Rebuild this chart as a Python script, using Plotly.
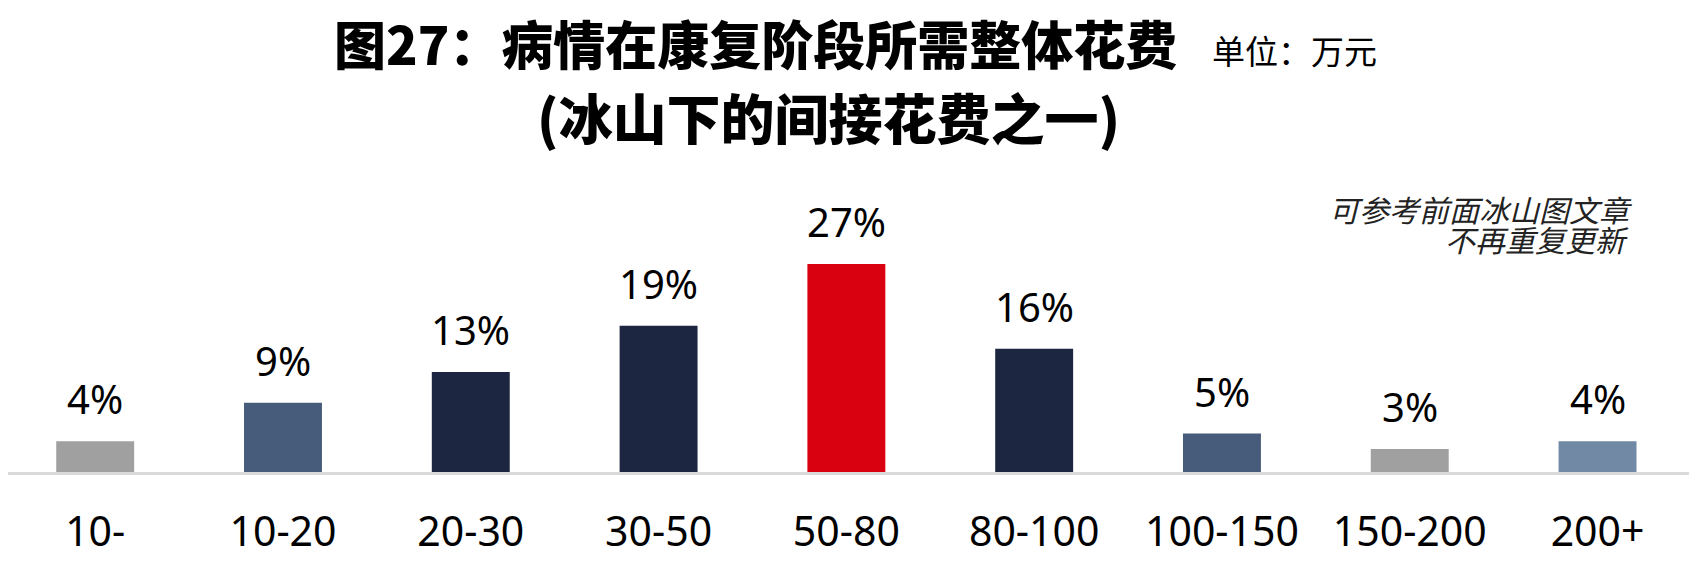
import plotly.graph_objects as go

categories = ["10-", "10-20", "20-30", "30-50", "50-80", "80-100", "100-150", "150-200", "200+"]
values = [4, 9, 13, 19, 27, 16, 5, 3, 4]
labels = ["4%", "9%", "13%", "19%", "27%", "16%", "5%", "3%", "4%"]
colors = ["#A0A0A0", "#475B7A", "#1C2640", "#1C2640", "#D9000F",
          "#1C2640", "#475B7A", "#A0A0A0", "#7189A5"]

title1 = "图27：病情在康复阶段所需整体花费"
unit = "单位：万元"
title2 = "(冰山下的间接花费之一)"
note1 = "可参考前面冰山图文章"
note2 = "不再重复更新"

# page has an 8px body margin; the figure is sized so it fits the window
W, H = 1681, 550
ML, MR, MT, MB = 0, 0, 233, 80
PW = W - ML - MR
PH = H - MT - MB


def px(x):
    return (x - ML) / PW


def py(y):
    return (H - MB - y) / PH


fig = go.Figure()
fig.add_trace(go.Bar(
    x=categories, y=values, marker=dict(color=colors, line=dict(width=0)),
    width=0.415, text=labels, textposition="none", hoverinfo="skip",
))

annotations = []
for c, v, t in zip(categories, values, labels):
    annotations.append(dict(
        x=c, y=v, xref="x", yref="y", text=t, showarrow=False,
        yanchor="bottom", yshift=13,
        font=dict(family="Noto Sans", size=40, color="#000000"),
    ))

annotations += [
    dict(x=px(747), y=py(29), xref="paper", yref="paper", text=title1,
         showarrow=False, xanchor="center", yanchor="middle",
         font=dict(family="Noto Sans CJK SC", size=52, color="#000000", weight=900)),
    dict(x=px(1202), y=py(37), xref="paper", yref="paper", text=unit,
         showarrow=False, xanchor="left", yanchor="middle",
         font=dict(family="Noto Sans CJK SC", size=33, color="#000000")),
    dict(x=px(820), y=py(105), xref="paper", yref="paper", text=title2,
         showarrow=False, xanchor="center", yanchor="middle",
         font=dict(family="Noto Sans CJK SC", size=54, color="#000000", weight=900)),
    dict(x=px(1626), y=py(200), xref="paper", yref="paper", text=note1,
         showarrow=False, xanchor="right", yanchor="middle", align="right",
         font=dict(family="Noto Sans CJK SC", size=30, color="#222222", style="italic")),
    dict(x=px(1623), y=py(231), xref="paper", yref="paper", text=note2,
         showarrow=False, xanchor="right", yanchor="middle", align="right",
         font=dict(family="Noto Sans CJK SC", size=30, color="#222222", style="italic")),
]

fig.update_layout(
    width=W, height=H, margin=dict(l=ML, r=MR, t=MT, b=MB, pad=0),
    plot_bgcolor="#FFFFFF", paper_bgcolor="#FFFFFF", showlegend=False,
    annotations=annotations,
    xaxis=dict(showline=True, linecolor="#D9D9D9", linewidth=2.5, showgrid=False,
               ticks="", ticklabelstandoff=22, range=[-0.4643, 8.487],
               tickfont=dict(family="Noto Sans", size=41, color="#000000")),
    yaxis=dict(range=[0, 30], visible=False, showgrid=False, zeroline=False),
)

fig.write_html("out.html")
